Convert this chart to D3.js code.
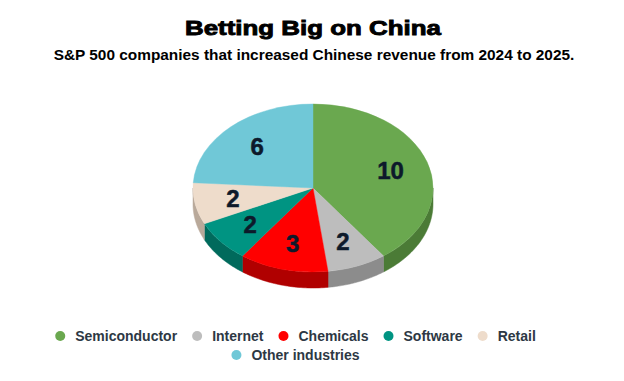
<!DOCTYPE html>
<html><head><meta charset="utf-8">
<script src="https://cdn.jsdelivr.net/npm/d3@7"></script>
<style>html,body{margin:0;padding:0;background:#fff;} svg{display:block;}</style>
</head><body>
<svg id="chart" width="624" height="381"></svg>
<script>
const categories = ["Semiconductor", "Internet", "Chemicals", "Software", "Retail", "Other industries"];
const values = [10, 2, 3, 2, 2, 6];
const topColors = ["#6aa84f", "#bdbdbd", "#ff0000", "#009482", "#eedccb", "#70c8d7"];
const sideColors = ["#4b7b36", "#8c8c8c", "#b00000", "#006a5c", "#b9a99a", "#4f9aa8"];
const title = "Betting Big on China";
const subtitle = "S&P 500 companies that increased Chinese revenue from 2024 to 2025.";

const svg = d3.select("#chart");
const cx = 313, cy = 188, rx = 120, ry = 84, depth = 16;

svg.append("text").attr("x", 313).attr("y", 34.5).attr("text-anchor", "middle")
  .attr("font-family", "Liberation Sans, Arial, sans-serif").attr("font-weight", "bold")
  .attr("font-size", 21).attr("fill", "#000").attr("stroke", "#000").attr("stroke-width", 0.9)
  .attr("textLength", 256).attr("lengthAdjust", "spacingAndGlyphs")
  .text(title);
svg.append("text").attr("x", 314).attr("y", 60).attr("text-anchor", "middle")
  .attr("font-family", "Liberation Sans, Arial, sans-serif").attr("font-weight", "bold")
  .attr("font-size", 15.4).attr("fill", "#000")
  .text(subtitle);

const data = categories.map((c, i) => ({cat: c, value: values[i], i}));
const pie = d3.pie().sort(null).value(d => d.value);
const arcs = pie(data);

const ex = a => cx + rx * Math.sin(a);
const ey = a => cy - ry * Math.cos(a);

// side walls (front half: angles between PI/2 and 3PI/2)
const wallG = svg.append("g");
arcs.forEach(a => {
  const s = Math.max(a.startAngle, Math.PI/2);
  const e = Math.min(a.endAngle, 3*Math.PI/2);
  if (s >= e) return;
  const p = d3.path();
  p.moveTo(ex(s), ey(s));
  const steps = 40;
  for (let k = 1; k <= steps; k++) { const t = s + (e - s) * k / steps; p.lineTo(ex(t), ey(t)); }
  for (let k = steps; k >= 0; k--) { const t = s + (e - s) * k / steps; p.lineTo(ex(t), ey(t) + depth); }
  p.closePath();
  wallG.append("path").attr("d", p.toString()).attr("fill", sideColors[a.data.i])
    .attr("stroke", sideColors[a.data.i]).attr("stroke-width", 0.5);
});

// top face
const arcGen = d3.arc().innerRadius(0).outerRadius(rx);
const topG = svg.append("g").attr("transform", `translate(${cx},${cy}) scale(1,${ry/rx})`);
topG.selectAll("path").data(arcs).join("path")
  .attr("d", arcGen).attr("fill", d => topColors[d.data.i])
  .attr("stroke", d => topColors[d.data.i]).attr("stroke-width", 0.5);

// labels
svg.append("g").selectAll("text").data(arcs).join("text")
  .attr("x", d => { const m = (d.startAngle + d.endAngle)/2; return cx + 0.68 * rx * Math.sin(m); })
  .attr("y", d => { const m = (d.startAngle + d.endAngle)/2; return cy - 0.68 * ry * Math.cos(m); })
  .attr("text-anchor", "middle").attr("dominant-baseline", "central")
  .attr("font-family", "Liberation Sans, Arial, sans-serif").attr("font-weight", "bold")
  .attr("font-size", 24).attr("fill", "#0d1a2b").attr("stroke", "#0d1a2b").attr("stroke-width", 0.5)
  .text(d => d.data.value);

// legend
const rows = [[0,1,2,3,4],[5]];
const rowY = [336, 355];
const legCenter = 303;
const legG = svg.append("g");
rows.forEach((row, ri) => {
  const tmp = legG.append("g");
  const widths = row.map(i => {
    const t = tmp.append("text").attr("font-family", "Liberation Sans, Arial, sans-serif")
      .attr("font-weight", "bold").attr("font-size", 14).text(categories[i]);
    const w = t.node().getComputedTextLength(); t.remove(); return w;
  });
  tmp.remove();
  const itemW = widths.map(w => 10 + 10 + w + 15);
  const total = d3.sum(itemW);
  let x = legCenter - total / 2;
  row.forEach((i, k) => {
    legG.append("circle").attr("cx", x + 5).attr("cy", rowY[ri]).attr("r", 5).attr("fill", topColors[i]);
    legG.append("text").attr("x", x + 20).attr("y", rowY[ri]).attr("dominant-baseline", "central")
      .attr("font-family", "Liberation Sans, Arial, sans-serif").attr("font-weight", "bold")
      .attr("font-size", 14).attr("fill", "#2d3844").text(categories[i]);
    x += itemW[k];
  });
});
</script>
</body></html>
